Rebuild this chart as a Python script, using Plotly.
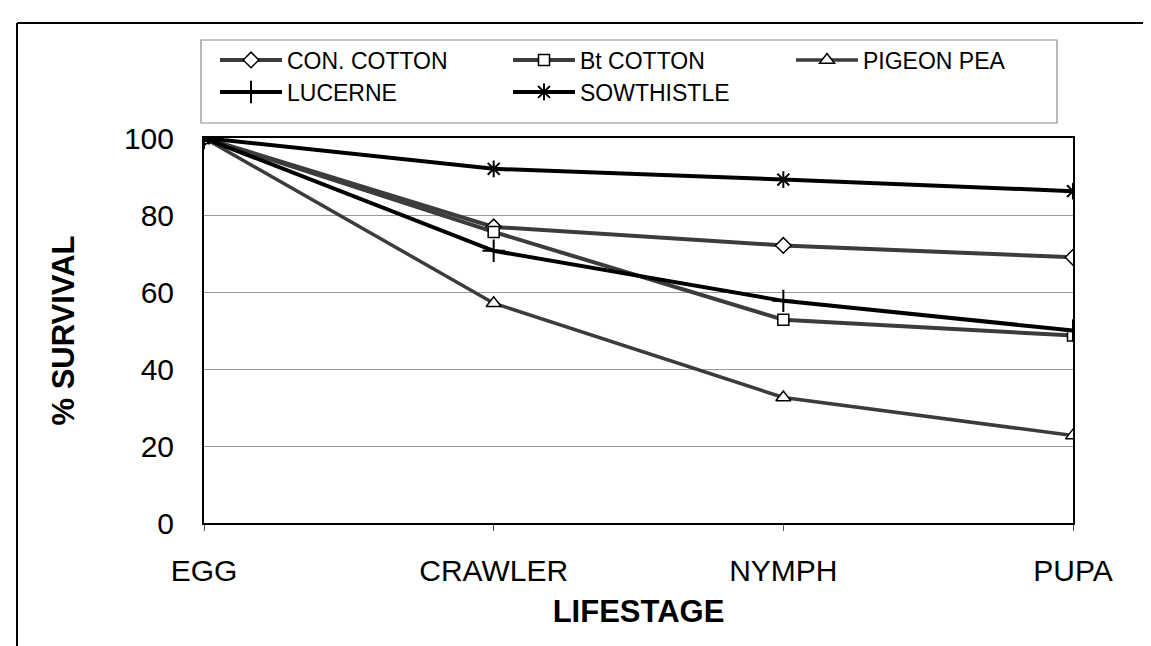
import plotly.graph_objects as go

stages = ["EGG", "CRAWLER", "NYMPH", "PUPA"]
con_cotton = [100, 76.9, 72.1, 69.0]
bt_cotton = [100, 75.6, 52.8, 48.7]
pigeon_pea = [100, 57.1, 32.6, 22.7]
lucerne = [100, 70.7, 57.7, 50.0]
sowthistle = [100, 92.0, 89.2, 86.2]
y_ticks = [0, 20, 40, 60, 80, 100]

W, H = 1151, 646
L, R, T, B = 196, 86, 130, 131
pw, ph = W - L - R, H - T - B


def px_x(v):
    return (v - L) / pw


def px_y(v):
    return (H - B - v) / ph


xs = list(range(len(stages)))
dark = "#3c3c3c"
series = [
    ("CON. COTTON", con_cotton, dark, 4, "diamond", 12, "legend"),
    ("Bt COTTON", bt_cotton, dark, 4, "square", 11, "legend"),
    ("PIGEON PEA", pigeon_pea, dark, 3.5, "triangle-up", 13, "legend3"),
    ("LUCERNE", lucerne, "#000000", 4, "cross-thin-open", 16, "legend2"),
    ("SOWTHISTLE", sowthistle, "#000000", 4, "asterisk-open", 14, "legend2"),
]

fig = go.Figure()
for name, vals, col, lw, sym, ms, lg in series:
    open_sym = sym.endswith("-open")
    fig.add_trace(go.Scatter(
        x=xs, y=vals, name=name, mode="lines+markers",
        line=dict(color=col, width=lw),
        marker=dict(symbol=sym, size=ms,
                    color="black" if open_sym else "white",
                    line=dict(color="black", width=2 if open_sym else 1.5)),
        legend=lg,
    ))

legend_font = dict(family="Liberation Sans, Arial", size=23, color="black")
common_legend = dict(orientation="h", xanchor="left", yanchor="middle",
                     bgcolor="rgba(0,0,0,0)", borderwidth=0, font=legend_font,
                     itemwidth=62, entrywidth=216, tracegroupgap=0, itemclick=False)

fig.update_layout(
    width=W, height=H,
    margin=dict(l=L, r=R, t=T, b=B, autoexpand=False),
    paper_bgcolor="white", plot_bgcolor="white",
    showlegend=True,
    legend=dict(x=px_x(207), y=px_y(52), **common_legend),
    legend2=dict(x=px_x(207), y=px_y(84), **common_legend),
    legend3=dict(x=px_x(783), y=px_y(52), **common_legend),
    xaxis=dict(
        type="linear", range=[0, 3], tickmode="array", tickvals=xs, ticktext=stages,
        showgrid=False, zeroline=False, showline=True, linecolor="black", linewidth=2,
        mirror=True, ticks="outside", ticklen=6, tickcolor="#555",
        ticklabelstandoff=14,
        tickfont=dict(family="Liberation Sans, Arial", size=30, color="black"),
        title=dict(text="<b>LIFESTAGE</b>", standoff=14,
                   font=dict(family="Liberation Sans, Arial", size=31, color="black")),
    ),
    yaxis=dict(
        range=[0, 100], tickmode="array", tickvals=y_ticks,
        showgrid=True, gridcolor="#9a9a9a", gridwidth=1, zeroline=False,
        showline=True, linecolor="black", linewidth=2, mirror=True,
        ticks="", ticklabelstandoff=22,
        tickfont=dict(family="Liberation Sans, Arial", size=30, color="black"),
        title=dict(text="<b>% SURVIVAL</b>", standoff=40,
                   font=dict(family="Liberation Sans, Arial", size=31, color="black")),
    ),
    shapes=[
        # legend box
        dict(type="rect", xref="paper", yref="paper",
             x0=px_x(193), x1=px_x(1049), y0=px_y(115), y1=px_y(32),
             line=dict(color="#8a8a8a", width=1.2), fillcolor="rgba(0,0,0,0)", layer="below"),
        # outer frame
        dict(type="line", xref="paper", yref="paper",
             x0=px_x(9), x1=px_x(1151), y0=px_y(15), y1=px_y(15),
             line=dict(color="black", width=2)),
        dict(type="line", xref="paper", yref="paper",
             x0=px_x(9), x1=px_x(9), y0=px_y(15), y1=px_y(646),
             line=dict(color="black", width=2)),
    ],
)

fig.write_html("out.html")
